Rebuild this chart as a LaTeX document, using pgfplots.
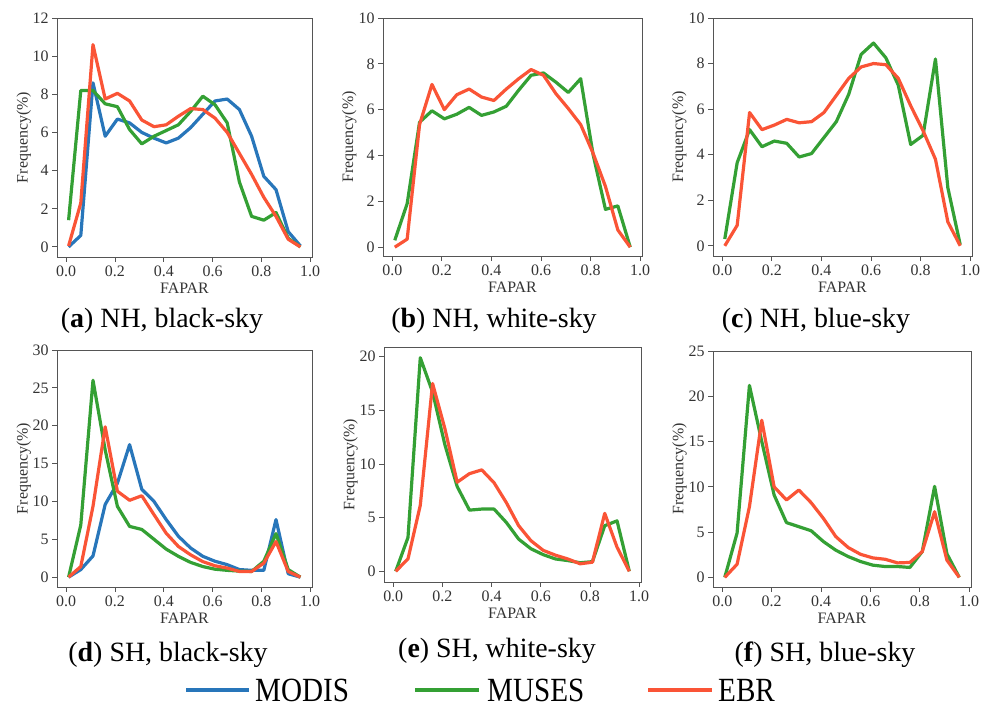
\documentclass[border=0pt]{standalone}
\usepackage{fontspec}
\setmainfont{Liberation Serif}
\usepackage{graphicx}
\usepackage{pgfplots}
\usepackage{pgfplotstable}
\pgfplotsset{compat=1.18}

\definecolor{cmodis}{RGB}{40,118,186}
\definecolor{cmuses}{RGB}{52,160,52}
\definecolor{cebr}{RGB}{250,84,54}
\definecolor{cframe}{RGB}{85,85,85}

% FAPAR bins: 0.01, 0.06, ..., 0.96
\pgfplotstableread{
x    modis muses ebr
0.01 0.0   1.4   0.05
0.06 0.6   8.2   2.3
0.11 8.6   8.2   10.6
0.16 5.8   7.5   7.75
0.21 6.7   7.35  8.05
0.26 6.5   6.15  7.65
0.31 6.0   5.4   6.65
0.36 5.7   5.8   6.3
0.41 5.45  6.1   6.4
0.46 5.7   6.4   6.85
0.51 6.25  7.1   7.25
0.56 6.95  7.9   7.2
0.61 7.65  7.45  6.75
0.66 7.75  6.5   6.0
0.71 7.2   3.4   4.9
0.76 5.8   1.6   3.8
0.81 3.7   1.4   2.6
0.86 3.0   1.8   1.6
0.91 0.8   0.45  0.4
0.96 0.05  0.0   0.0
}\tblA

\pgfplotstableread{
x    muses ebr
0.01 0.3   0.0
0.06 1.9   0.35
0.11 5.45  5.35
0.16 5.95  7.1
0.21 5.6   6.0
0.26 5.8   6.65
0.31 6.1   6.9
0.36 5.75  6.55
0.41 5.9   6.4
0.46 6.15  6.9
0.51 6.85  7.35
0.56 7.5   7.75
0.61 7.6   7.5
0.66 7.2   6.7
0.71 6.75  6.05
0.76 7.35  5.35
0.81 4.05  4.1
0.86 1.65  2.65
0.91 1.8   0.75
0.96 0.0   0.0
}\tblB

\pgfplotstableread{
x    muses ebr
0.01 0.3   0.0
0.06 3.65  0.9
0.11 5.1   5.85
0.16 4.35  5.1
0.21 4.6   5.3
0.26 4.5   5.55
0.31 3.9   5.4
0.36 4.05  5.45
0.41 4.75  5.85
0.46 5.45  6.6
0.51 6.65  7.35
0.56 8.4   7.85
0.61 8.9   8.0
0.66 8.25  7.95
0.71 7.05  7.35
0.76 4.45  6.15
0.81 4.85  5.05
0.86 8.2   3.8
0.91 2.55  1.05
0.96 0.05  0.0
}\tblC

\pgfplotstableread{
x    modis muses ebr
0.01 0.0   0.0   0.0
0.06 1.0   6.9   1.4
0.11 2.8   26.0  9.35
0.16 9.6   16.8  19.85
0.21 12.4  9.35  11.35
0.26 17.5  6.7   10.15
0.31 11.6  6.3   10.75
0.36 10.0  5.0   8.25
0.41 7.6   3.7   5.8
0.46 5.4   2.75  4.05
0.51 3.85  1.95  2.95
0.56 2.75  1.4   2.05
0.61 2.1   1.05  1.5
0.66 1.65  0.9   1.2
0.71 1.0   0.8   0.75
0.76 0.9   0.75  0.75
0.81 0.9   2.1   1.85
0.86 7.6   5.75  4.7
0.91 0.45  1.0   0.75
0.96 0.0   0.0   0.0
}\tblD

\pgfplotstableread{
x    muses ebr
0.01 0.0   0.0
0.06 3.15  1.15
0.11 19.9  6.15
0.16 16.7  17.5
0.21 11.8  13.3
0.26 7.9   8.3
0.31 5.7   9.1
0.36 5.8   9.45
0.41 5.8   8.25
0.46 4.55  6.4
0.51 3.0   4.25
0.56 2.1   2.85
0.61 1.55  1.95
0.66 1.15  1.5
0.71 1.0   1.15
0.76 0.8   0.7
0.81 0.9   0.85
0.86 4.25  5.4
0.91 4.7   2.25
0.96 0.0   0.0
}\tblE

\pgfplotstableread{
x    muses ebr
0.01 0.0   0.0
0.06 4.9   1.45
0.11 21.2  7.8
0.16 15.0  17.35
0.21 9.1   10.0
0.26 6.05  8.55
0.31 5.6   9.65
0.36 5.15  8.25
0.41 3.95  6.5
0.46 3.0   4.5
0.51 2.3   3.3
0.56 1.75  2.55
0.61 1.35  2.15
0.66 1.2   2.0
0.71 1.2   1.6
0.76 1.1   1.65
0.81 2.85  2.85
0.86 10.05 7.25
0.91 2.6   1.9
0.96 0.0   0.0
}\tblF

\pgfplotsset{
  panel/.style={
    scale only axis, anchor=south west,
    xmin=-0.0375, xmax=1.0075,
    xtick={0,0.2,0.4,0.6,0.8,1.0},
    xticklabels={0.0,0.2,0.4,0.6,0.8,1.0},
    xtick pos=bottom, ytick pos=left,
    tick align=outside, major tick length=5bp,
    axis line style={cframe, line width=0.9bp},
    every tick/.style={cframe, line width=0.9bp},
    tick label style={font=\fontsize{16}{16}\selectfont, text=black!80},
    /pgf/number format/assume math mode=true,
    xlabel={FAPAR}, ylabel={Frequency(\%)},
    label style={font=\fontsize{16}{16}\selectfont, text=black!80},
    xlabel style={at={(axis description cs:0.5,0)}, anchor=center, yshift=-31bp},
    ylabel style={at={(axis description cs:-0.13,0.5)}, anchor=center},
    every axis plot/.append style={line width=3.2bp, line join=round},
  },
  modis/.style={cmodis}, muses/.style={cmuses}, ebr/.style={cebr},
}

\begin{document}
\begin{tikzpicture}[x=1bp,y=1bp]
\useasboundingbox (0,0) rectangle (987,711);

% (a)
\begin{axis}[panel, at={(57bp,454bp)}, width=255bp, height=239bp,
  ymin=-0.53, ymax=12, ytick={0,2,...,12}]
\addplot[modis] table[x=x,y=modis] {\tblA};
\addplot[muses] table[x=x,y=muses] {\tblA};
\addplot[ebr] table[x=x,y=ebr] {\tblA};
\end{axis}

% (b)
\begin{axis}[panel, at={(383bp,455bp)}, width=259bp, height=238bp,
  ymin=-0.385, ymax=10, ytick={0,2,...,10}]
\addplot[muses] table[x=x,y=muses] {\tblB};
\addplot[ebr] table[x=x,y=ebr] {\tblB};
\end{axis}

% (c)
\begin{axis}[panel, at={(713bp,455bp)}, width=259bp, height=238bp,
  ymin=-0.445, ymax=10, ytick={0,2,...,10}]
\addplot[muses] table[x=x,y=muses] {\tblC};
\addplot[ebr] table[x=x,y=ebr] {\tblC};
\end{axis}

% (d)
\begin{axis}[panel, at={(57bp,124bp)}, width=255bp, height=237bp,
  ymin=-1.3, ymax=30, ytick={0,5,...,30}]
\addplot[modis] table[x=x,y=modis] {\tblD};
\addplot[muses] table[x=x,y=muses] {\tblD};
\addplot[ebr] table[x=x,y=ebr] {\tblD};
\end{axis}

% (e)
\begin{axis}[panel, at={(384bp,129bp)}, width=257bp, height=235bp,
  ymin=-0.995, ymax=20.9, ytick={0,5,...,20}]
\addplot[muses] table[x=x,y=muses] {\tblE};
\addplot[ebr] table[x=x,y=ebr] {\tblE};
\end{axis}

% (f)
\begin{axis}[panel, at={(713bp,124bp)}, width=258bp, height=236bp,
  ymin=-1.06, ymax=25, ytick={0,5,...,25}]
\addplot[muses] table[x=x,y=muses] {\tblF};
\addplot[ebr] table[x=x,y=ebr] {\tblF};
\end{axis}

% captions
\begin{scope}[every node/.style={font=\fontsize{28}{32}\selectfont, anchor=center}]
\node at (162,390) {(\textbf{a}) NH, black-sky};
\node at (494,390) {(\textbf{b}) NH, white-sky};
\node at (816,390) {(\textbf{c}) NH, blue-sky};
\node at (168,56) {(\textbf{d}) SH, black-sky};
\node at (497,60) {(\textbf{e}) SH, white-sky};
\node at (825,56) {(\textbf{f}) SH, blue-sky};
\end{scope}

% legend
\begin{scope}[every node/.style={font=\fontsize{34}{38}\selectfont, anchor=west, inner sep=0pt}]
\draw[cmodis, line width=4bp] (186,21) -- (249,21);
\node at (255,21) {\scalebox{0.86}[1]{MODIS}};
\draw[cmuses, line width=4bp] (415,21) -- (479,21);
\node at (487,21) {\scalebox{0.86}[1]{MUSES}};
\draw[cebr, line width=4bp] (648,21) -- (712,21);
\node at (718,21) {\scalebox{0.86}[1]{EBR}};
\end{scope}
\end{tikzpicture}
\end{document}
